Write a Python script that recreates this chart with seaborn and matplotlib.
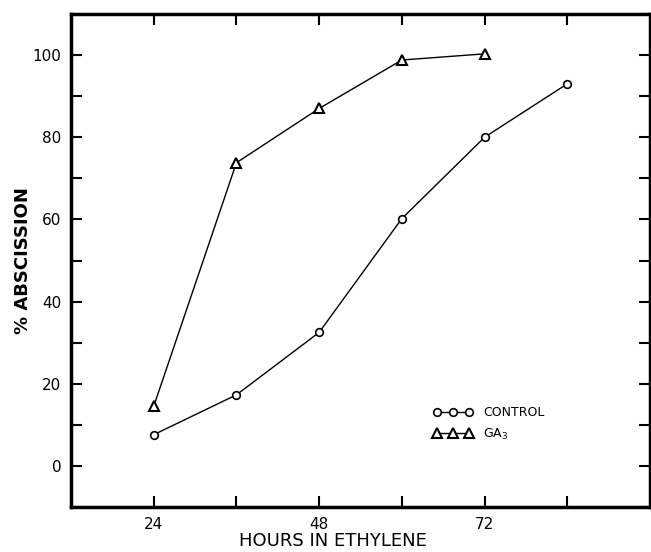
import matplotlib
matplotlib.use('Agg')
import matplotlib.pyplot as plt
import pandas as pd
import seaborn as sns

# data
hours_control = [24, 36, 48, 60, 72, 84]
control = [7.6, 17.3, 32.5, 60.2, 80.0, 93.0]
hours_ga3 = [24, 36, 48, 60, 72]
ga3 = [14.5, 73.8, 87.0, 98.8, 100.3]

x_ticks = [24, 36, 48, 60, 72, 84]
x_labels = ['24', '', '48', '', '72', '']
y_ticks = list(range(-10, 111, 10))
y_labels = [str(v) if v % 20 == 0 and 0 <= v <= 100 else '' for v in y_ticks]

df_c = pd.DataFrame({'hours': hours_control, 'pct': control})
df_g = pd.DataFrame({'hours': hours_ga3, 'pct': ga3})

sns.set_style('white')
plt.rcParams['font.family'] = ['DejaVu Sans']
plt.rcParams['text.color'] = 'black'
plt.rcParams['axes.labelcolor'] = 'black'

fig = plt.figure(figsize=(6.51, 5.52), dpi=100)
ax = fig.add_axes([71/651, 1 - 507/552, 579/651, 493/552])

sns.lineplot(data=df_c, x='hours', y='pct', ax=ax, color='black', lw=1,
             marker='o', markersize=5.5, markerfacecolor='white',
             markeredgecolor='black', markeredgewidth=1.2, label='CONTROL')
sns.lineplot(data=df_g, x='hours', y='pct', ax=ax, color='black', lw=1,
             marker='^', markersize=7, markerfacecolor='white',
             markeredgecolor='black', markeredgewidth=1.5, label='GA$_3$')

ax.set_xlim(12, 96)
ax.set_ylim(-10, 110)
ax.set_xticks(x_ticks)
ax.set_xticklabels(x_labels)
ax.set_yticks(y_ticks)
ax.set_yticklabels(y_labels)
ax.tick_params(direction='in', length=8, width=1.5, top=True, right=True,
               bottom=True, left=True, labelsize=11, pad=7, colors='black')
for s in ax.spines.values():
    s.set_linewidth(2.5)
    s.set_color('black')

ax.set_xlabel('HOURS IN ETHYLENE', fontsize=13)
ax.xaxis.set_label_coords(0.452, -0.05)
ax.set_ylabel('% ABSCISSION', fontsize=13, fontweight='semibold')
ax.yaxis.set_label_coords(-0.067, 0.5)

ax.legend(loc='upper left', bbox_to_anchor=(0.625, 0.205), frameon=False,
          numpoints=3, handlelength=3.2, fontsize=9, borderpad=0,
          borderaxespad=0, labelspacing=0.6, handletextpad=0.8,
          labelcolor='black')

fig.savefig('out.png', dpi=100)
